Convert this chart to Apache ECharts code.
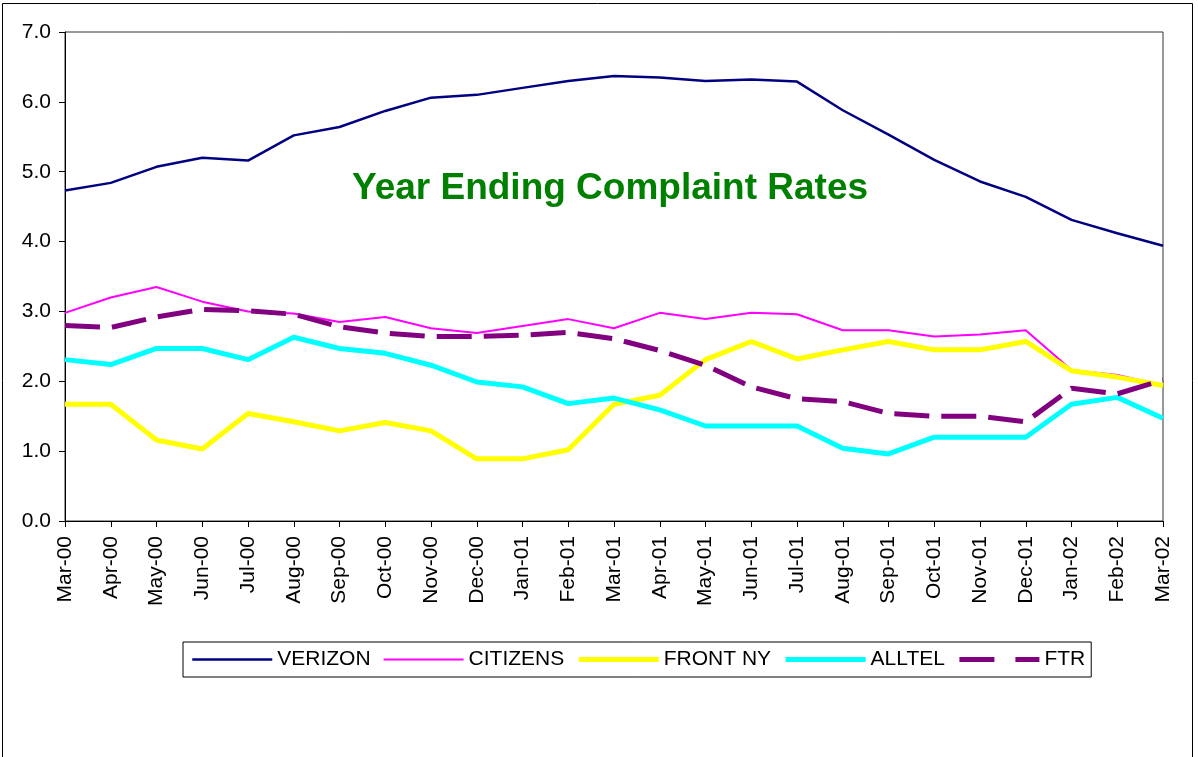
<!DOCTYPE html>
<html>
<head>
<meta charset="utf-8">
<script src="https://cdn.jsdelivr.net/npm/echarts@6/dist/echarts.min.js"></script>
<style>
  html, body { margin: 0; padding: 0; background: #fff; }
  #main { width: 1198px; height: 757px; }
</style>
</head>
<body>
<div id="main"></div>
<script>
var months = ['Mar-00', 'Apr-00', 'May-00', 'Jun-00', 'Jul-00', 'Aug-00', 'Sep-00', 'Oct-00', 'Nov-00', 'Dec-00',
    'Jan-01', 'Feb-01', 'Mar-01', 'Apr-01', 'May-01', 'Jun-01', 'Jul-01', 'Aug-01', 'Sep-01', 'Oct-01',
    'Nov-01', 'Dec-01', 'Jan-02', 'Feb-02', 'Mar-02'];

var verizon = [4.73, 4.84, 5.07, 5.20, 5.16, 5.52, 5.64, 5.87, 6.06, 6.10, 6.20, 6.30, 6.37, 6.35, 6.30, 6.32, 6.29,
    5.88, 5.53, 5.17, 4.86, 4.64, 4.31, 4.12, 3.94];
var citizens = [2.98, 3.20, 3.35, 3.14, 3.00, 2.97, 2.85, 2.92, 2.76, 2.69, 2.79, 2.89, 2.76, 2.98, 2.89, 2.98, 2.96,
    2.73, 2.73, 2.64, 2.67, 2.73, 2.16, 2.09, 1.94];
var frontNy = [1.67, 1.67, 1.16, 1.03, 1.54, 1.42, 1.29, 1.41, 1.29, 0.89, 0.89, 1.02, 1.67, 1.80, 2.31, 2.57, 2.32,
    2.45, 2.57, 2.45, 2.45, 2.57, 2.15, 2.06, 1.94];
var alltel = [2.31, 2.24, 2.47, 2.47, 2.31, 2.63, 2.47, 2.40, 2.23, 1.99, 1.92, 1.68, 1.76, 1.59, 1.36, 1.36, 1.36,
    1.04, 0.96, 1.20, 1.20, 1.20, 1.67, 1.77, 1.47];
var ftr = [2.80, 2.77, 2.92, 3.03, 3.01, 2.96, 2.78, 2.69, 2.64, 2.64, 2.66, 2.70, 2.61, 2.44, 2.23, 1.92, 1.75,
    1.71, 1.54, 1.50, 1.50, 1.42, 1.90, 1.82, 2.02];

var yTicks = ['0.0', '1.0', '2.0', '3.0', '4.0', '5.0', '6.0', '7.0'];

var font = 'Arial, "Liberation Sans", sans-serif';

var chart = echarts.init(document.getElementById('main'));

var option = {
    animation: false,
    title: {
        text: 'Year Ending Complaint Rates',
        left: 347,
        top: 165,
        textStyle: { color: '#008000', fontSize: 37, fontWeight: 'bold', fontFamily: font }
    },
    legend: {
        left: 183,
        top: 642,
        padding: [7, 6, 7, 8],
        borderColor: '#000',
        borderWidth: 1,
        itemWidth: 80,
        itemHeight: 14,
        itemGap: 12,
        itemStyle: { opacity: 0 },
        textStyle: { fontFamily: font, fontSize: 21, color: '#000' },
        data: [
            { name: 'VERIZON', lineStyle: { width: 2.5 } },
            { name: 'CITIZENS', lineStyle: { width: 2 } },
            { name: 'FRONT NY', lineStyle: { width: 5 } },
            { name: 'ALLTEL', lineStyle: { width: 5 } },
            { name: 'FTR', lineStyle: { width: 5, type: [35, 21] } }
        ]
    },
    grid: {
        left: 65,
        right: 35,
        top: 32,
        bottom: 236,
        show: true,
        borderColor: '#333',
        borderWidth: 1,
        backgroundColor: '#fff'
    },
    xAxis: {
        type: 'category',
        data: months,
        boundaryGap: false,
        axisLine: { lineStyle: { color: '#000', width: 1 } },
        axisTick: { show: true, length: 6, lineStyle: { color: '#000' } },
        axisLabel: { rotate: 90, color: '#000', fontFamily: font, fontSize: 21, margin: 15, interval: 0 },
        splitLine: { show: false }
    },
    yAxis: {
        type: 'value',
        min: 0,
        max: 7,
        interval: 1,
        axisLine: { show: true, lineStyle: { color: '#000', width: 1 } },
        axisTick: { show: true, length: 6, lineStyle: { color: '#000' } },
        axisLabel: {
            color: '#000', fontFamily: font, fontSize: 21, margin: 14,
            formatter: function (v) { return yTicks[Math.round(v)]; }
        },
        splitLine: { show: false }
    },
    series: [
        {
            name: 'VERIZON', type: 'line', data: verizon, symbol: 'none',
            itemStyle: { color: '#000080' },
            lineStyle: { color: '#000080', width: 2.5 }
        },
        {
            name: 'CITIZENS', type: 'line', data: citizens, symbol: 'none',
            itemStyle: { color: '#FF00FF' },
            lineStyle: { color: '#FF00FF', width: 2 }
        },
        {
            name: 'FRONT NY', type: 'line', data: frontNy, symbol: 'none',
            itemStyle: { color: '#FFFF00' },
            lineStyle: { color: '#FFFF00', width: 5 }
        },
        {
            name: 'ALLTEL', type: 'line', data: alltel, symbol: 'none',
            itemStyle: { color: '#00FFFF' },
            lineStyle: { color: '#00FFFF', width: 5 }
        },
        {
            name: 'FTR', type: 'line', data: ftr, symbol: 'none', z: 3,
            itemStyle: { color: '#800080' },
            lineStyle: { color: '#800080', width: 5, type: [35, 12] }
        }
    ],
    graphic: [
        {
            type: 'rect',
            silent: true,
            z: -1,
            shape: { x: 2.5, y: 3.5, width: 1190, height: 800 },
            style: { fill: 'none', stroke: '#000', lineWidth: 1 }
        }
    ]
};

chart.setOption(option);
</script>
</body>
</html>
